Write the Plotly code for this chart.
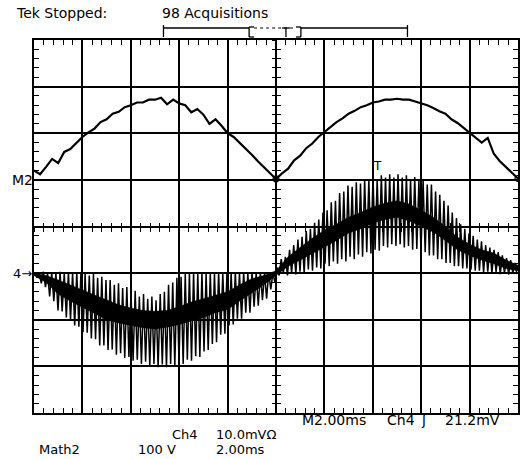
import numpy as np
import plotly.graph_objects as go

# ---------------- data (read from the scope print) ----------------
TIME_PER_DIV_MS = 2.0
N_DIV_X = 10
T_END = TIME_PER_DIV_MS * N_DIV_X          # 20 ms
M2_OFFSET_DIV = 1.0                        # M2 ground marker, div above centre
CH4_OFFSET_DIV = -1.0                      # Ch4 ground marker ("4->"), div below centre
CH4_SCALE_MV = 10.0
TRIG_LEVEL_MV = 21.2
TRIG_MARK_T_MS = 14.2

# Math2 trace (div above its ground), sampled every 0.25 ms from 0 to 20 ms
m2_values = [0.2, 0.12, 0.28, 0.45, 0.36, 0.6, 0.66, 0.8, 0.92, 1.02, 1.1, 1.24, 1.3, 1.42,
             1.46, 1.56, 1.6, 1.66, 1.66, 1.72, 1.72,
             1.76, 1.62, 1.72, 1.64, 1.6, 1.45, 1.52, 1.4, 1.2, 1.3, 1.16, 1.0, 0.92, 0.8,
             0.66, 0.54, 0.4, 0.27, 0.14, 0.02,
             0.14, 0.24, 0.42, 0.52, 0.68, 0.78, 0.92, 1.03, 1.12, 1.24, 1.32, 1.42, 1.48,
             1.56, 1.6, 1.66, 1.68, 1.72, 1.72, 1.74,
             1.72, 1.72, 1.68, 1.64, 1.6, 1.54, 1.47, 1.42, 1.3, 1.22, 1.12, 1.0, 0.9, 0.8,
             0.9, 0.56, 0.4, 0.28, 0.14, 0.03]

# Ch4 ripple spikes (div relative to Ch4 ground): upper and lower tip of each spike
ch4_spike_hi = [0.02, 0.0, 0.03, 0.0, 0.02, 0.0, 0.03, 0.0, 0.02, 0.0, 0.02, 0.0, -0.02, -0.05,
                -0.02, -0.1, -0.08, -0.15, -0.15, -0.25, -0.22, -0.32, -0.3, -0.42, -0.38, -0.5,
                -0.45, -0.55, -0.5, -0.58, -0.45, -0.4, -0.25, -0.2, -0.1, -0.08, -0.02, 0.0,
                0.02, 0.0, 0.02, 0.0, 0.02, 0.0, 0.02, 0.0, 0.02, 0.0, 0.02, 0.0, 0.02, 0.0,
                0.02, 0.0, 0.02, 0.0, 0.02, 0.0,
                0.12, 0.3, 0.35, 0.5, 0.6, 0.72, 0.78, 0.9, 0.95, 1.08, 1.15, 1.3, 1.35, 1.52,
                1.55, 1.72, 1.75, 1.88, 1.85, 1.95, 1.92, 2.02, 2.0, 2.08, 2.02, 2.1, 2.05, 2.12,
                2.05, 2.12, 2.05, 2.1, 2.02, 2.06, 1.98, 2.0, 1.9, 1.9, 1.75, 1.68, 1.55, 1.45,
                1.3, 1.18, 1.05, 0.95, 0.85, 0.8, 0.72, 0.68, 0.6, 0.55, 0.5, 0.45, 0.38, 0.32,
                0.28, 0.22]
ch4_spike_lo = [-0.1, -0.22, -0.3, -0.5, -0.6, -0.8, -0.82, -0.95, -1.0, -1.12, -1.15, -1.27,
                -1.28, -1.4, -1.42, -1.55, -1.55, -1.65, -1.64, -1.75, -1.72, -1.82, -1.8, -1.88,
                -1.86, -1.95, -1.9, -2.0, -1.95, -2.02, -1.96, -2.02, -1.95, -2.0, -1.92, -1.95,
                -1.86, -1.88, -1.78, -1.8, -1.68, -1.65, -1.52, -1.48, -1.32, -1.3, -1.12, -1.1,
                -0.98, -0.98, -0.85, -0.85, -0.72, -0.7, -0.58, -0.55, -0.35, -0.2,
                -0.05, 0.0, -0.05, 0.0, -0.03, 0.03, 0.0, 0.08, 0.05, 0.12, 0.1, 0.2, 0.15, 0.25,
                0.2, 0.3, 0.25, 0.35, 0.3, 0.4, 0.35, 0.45, 0.42, 0.5, 0.48, 0.58, 0.55, 0.62,
                0.58, 0.62, 0.55, 0.58, 0.5, 0.52, 0.45, 0.45, 0.38, 0.38, 0.3, 0.3, 0.22, 0.22,
                0.15, 0.15, 0.1, 0.1, 0.08, 0.05, 0.05, 0.02, 0.03, 0.0, 0.02, -0.02, 0.0, -0.03,
                0.0, -0.02]

# Ch4 dense band (div relative to Ch4 ground), every 0.5 ms
ch4_band_hi = [0.0, -0.05, -0.15, -0.25, -0.36, -0.47, -0.58, -0.68, -0.75, -0.8, -0.82, -0.8,
               -0.72, -0.62, -0.55, -0.47, -0.4, -0.25, -0.12, -0.05, 0.05,
               0.35, 0.56, 0.75, 0.92, 1.05, 1.2, 1.3, 1.42, 1.5, 1.55, 1.48, 1.35, 1.2, 1.0,
               0.77, 0.62, 0.5, 0.43, 0.28, 0.17]
ch4_band_lo = [-0.05, -0.2, -0.45, -0.6, -0.73, -0.87, -1.0, -1.07, -1.12, -1.17, -1.2, -1.16,
               -1.1, -1.02, -0.95, -0.85, -0.78, -0.6, -0.42, -0.25, -0.05,
               0.15, 0.28, 0.42, 0.56, 0.7, 0.86, 0.95, 1.07, 1.15, 1.2, 1.12, 1.0, 0.88, 0.7,
               0.5, 0.38, 0.28, 0.2, 0.1, 0.05]

# ---------------- geometry ----------------
W, H = 521, 459
ML, MR, MT, MB = 34, 1, 40, 46
PW, PH = W - ML - MR, H - MT - MB


def px(x):
    return (x - ML) / PW


def py(y):
    return (H - MB - y) / PH


FONT = "DejaVu Sans"
INK = "black"

fig = go.Figure()

# Ch4 dense band
tb = np.linspace(0, T_END, len(ch4_band_hi))
fig.add_trace(go.Scatter(x=tb, y=CH4_OFFSET_DIV + np.array(ch4_band_lo), mode="lines",
                         line=dict(width=0.5, color=INK), hoverinfo="skip", showlegend=False))
fig.add_trace(go.Scatter(x=tb, y=CH4_OFFSET_DIV + np.array(ch4_band_hi), mode="lines",
                         fill="tonexty", fillcolor=INK, line=dict(width=0.5, color=INK),
                         hoverinfo="skip", showlegend=False))

# Ch4 ripple spikes
n = len(ch4_spike_hi)
dt = T_END / n
tk = (np.arange(n) + 0.5) * dt
xs = np.empty(2 * n)
ys = np.empty(2 * n)
xs[0::2] = tk - dt / 4
xs[1::2] = tk + dt / 4
ys[0::2] = CH4_OFFSET_DIV + np.array(ch4_spike_hi)
ys[1::2] = CH4_OFFSET_DIV + np.array(ch4_spike_lo)
fig.add_trace(go.Scatter(x=xs, y=ys, mode="lines", line=dict(width=1.5, color=INK),
                         hoverinfo="skip", showlegend=False))

# Math2 trace
tm = np.linspace(0, T_END, len(m2_values))
m2y = M2_OFFSET_DIV + np.array(m2_values)
fig.add_trace(go.Scatter(x=tm, y=m2y, mode="lines", line=dict(width=2.2, color=INK),
                         hoverinfo="skip", showlegend=False))
half = (len(m2_values) - 1) // 2
fig.add_trace(go.Scatter(x=[tm[half], tm[-1]], y=[m2y[half], m2y[-1]], mode="markers",
                         marker=dict(symbol="circle-open", size=6, color=INK, line=dict(width=1.2)),
                         hoverinfo="skip", showlegend=False))

# dummy traces so the centre-line tick axes are drawn
for xa, ya in [("x2", "y"), ("x3", "y"), ("x", "y2"), ("x", "y3")]:
    fig.add_trace(go.Scatter(x=[], y=[], xaxis=xa, yaxis=ya, showlegend=False))

minor_x = dict(dtick=TIME_PER_DIV_MS / 5, tick0=0, ticklen=5, tickcolor=INK, tickwidth=1.2,
               showgrid=False)
minor_y = dict(dtick=0.2, tick0=0, ticklen=5, tickcolor=INK, tickwidth=1.2, showgrid=False)

fig.update_layout(
    width=W, height=H,
    margin=dict(l=ML, r=MR, t=MT, b=MB, pad=0),
    paper_bgcolor="white", plot_bgcolor="white",
    showlegend=False,
    xaxis=dict(range=[0, T_END], dtick=TIME_PER_DIV_MS, tick0=0, showgrid=True,
               gridcolor=INK, gridwidth=1.6, zeroline=False, showticklabels=False,
               showline=True, linecolor=INK, linewidth=2, mirror="ticks",
               ticks="inside", ticklen=5, tickcolor=INK, tickwidth=1.2,
               minor=dict(ticks="inside", **minor_x)),
    yaxis=dict(range=[-4, 4], dtick=1, tick0=0, showgrid=True,
               gridcolor=INK, gridwidth=1.6, zeroline=False, showticklabels=False,
               showline=True, linecolor=INK, linewidth=2, mirror="ticks",
               ticks="inside", ticklen=5, tickcolor=INK, tickwidth=1.2,
               minor=dict(ticks="inside", **minor_y)),
    xaxis2=dict(overlaying="x", matches="x", anchor="free", position=0.5, side="bottom",
                showgrid=False, zeroline=False, showticklabels=False, showline=False,
                ticks="inside", ticklen=4, tickcolor=INK, tickwidth=1.2, dtick=TIME_PER_DIV_MS,
                minor=dict(ticks="inside", **{**minor_x, "ticklen": 4})),
    xaxis3=dict(overlaying="x", matches="x", anchor="free", position=0.5, side="bottom",
                showgrid=False, zeroline=False, showticklabels=False, showline=False,
                ticks="outside", ticklen=4, tickcolor=INK, tickwidth=1.2, dtick=TIME_PER_DIV_MS,
                minor=dict(ticks="outside", **{**minor_x, "ticklen": 4})),
    yaxis2=dict(overlaying="y", matches="y", anchor="free", position=0.5, side="left",
                showgrid=False, zeroline=False, showticklabels=False, showline=False,
                ticks="inside", ticklen=4, tickcolor=INK, tickwidth=1.2, dtick=1,
                minor=dict(ticks="inside", **{**minor_y, "ticklen": 4})),
    yaxis3=dict(overlaying="y", matches="y", anchor="free", position=0.5, side="left",
                showgrid=False, zeroline=False, showticklabels=False, showline=False,
                ticks="outside", ticklen=4, tickcolor=INK, tickwidth=1.2, dtick=1,
                minor=dict(ticks="outside", **{**minor_y, "ticklen": 4})),
)

# ---------------- texts ----------------
def txt(s, x, y, size=14, anchor="left"):
    fig.add_annotation(text=s, x=px(x), y=py(y), xref="paper", yref="paper",
                       xanchor=anchor, yanchor="middle", showarrow=False,
                       font=dict(family=FONT, size=size, color=INK), borderpad=0)


txt("Tek Stopped:", 15, 13)
txt("98 Acquisitions", 162, 13)
txt("M2.00ms", 302, 420)
txt("Ch4", 387, 420)
txt("ʃ", 422, 420)
txt("21.2mV", 446, 420)
txt("Ch4", 172, 434, size=13)
txt("10.0mVΩ", 216, 434, size=13)
txt("Math2", 38, 449, size=13)
txt("100 V", 137, 449, size=13)
txt("2.00ms", 216, 449, size=13)

fig.add_annotation(text="M2", x=0, y=M2_OFFSET_DIV, xref="paper", yref="y", xanchor="right",
                   yanchor="middle", showarrow=False, xshift=1,
                   font=dict(family=FONT, size=14, color=INK))
fig.add_annotation(text="4→", x=0, y=CH4_OFFSET_DIV, xref="paper", yref="y", xanchor="right",
                   yanchor="middle", showarrow=False, xshift=0,
                   font=dict(family=FONT, size=13, color=INK))
fig.add_annotation(text="T", x=TRIG_MARK_T_MS, y=CH4_OFFSET_DIV + TRIG_LEVEL_MV / CH4_SCALE_MV,
                   xref="x", yref="y", xanchor="center", yanchor="bottom", showarrow=False,
                   font=dict(family=FONT, size=12, color=INK), borderpad=0)

# ---------------- record-length bar ----------------
def seg(x0, y0, x1, y1, w=1.3, dash=None):
    fig.add_shape(type="line", xref="paper", yref="paper", x0=px(x0), y0=py(y0), x1=px(x1),
                  y1=py(y1), line=dict(color=INK, width=w, dash=dash))


seg(164, 28, 250, 28)
seg(302, 28, 409, 28)
seg(164, 25, 164, 37)
seg(409, 25, 409, 37)
seg(250, 27, 250, 37)
seg(250, 27, 255, 27)
seg(250, 37, 255, 37)
seg(302, 27, 302, 37)
seg(297, 27, 302, 27)
seg(297, 37, 302, 37)
seg(255, 28, 297, 28, w=1, dash="dot")
seg(283, 28, 291, 28)
seg(287, 28, 287, 37)

fig.write_html("out.html", config={"displayModeBar": False},
               post_script="document.body.style.margin='0';")
